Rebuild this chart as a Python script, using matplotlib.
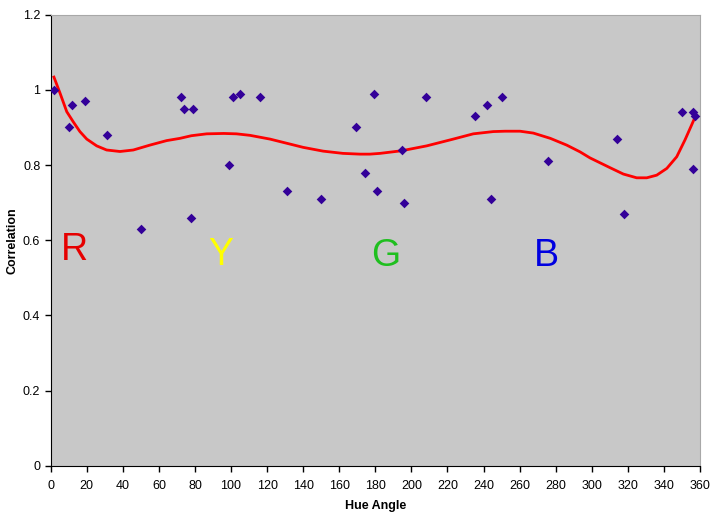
import matplotlib
matplotlib.use("Agg")
import matplotlib.pyplot as plt

plt.rcParams["font.family"] = ["Liberation Sans", "DejaVu Sans"]

# scatter data: hue angle vs correlation
hue = [2, 10, 12, 19, 31, 50, 72, 74, 78, 79, 99, 101, 105, 116, 131, 150,
       169, 174, 179, 181, 195, 196, 208, 235, 242, 244, 250, 276, 314, 318,
       350, 356, 356, 357]
corr = [1.00, 0.90, 0.96, 0.97, 0.88, 0.63, 0.98, 0.95, 0.66, 0.95, 0.80, 0.98,
        0.99, 0.98, 0.73, 0.71, 0.90, 0.78, 0.99, 0.73, 0.84, 0.70, 0.98, 0.93,
        0.96, 0.71, 0.98, 0.81, 0.87, 0.67, 0.94, 0.94, 0.79, 0.93]

# trend line
trend_x = [1.8, 5.2, 8.9, 12.5, 16.2, 20, 25.5, 31, 38.4, 45.8, 55, 64.3, 71.7,
           78, 86.5, 96, 103, 110.5, 121.6, 130.8, 140, 151, 162, 171.5, 177,
           182.6, 194.6, 208.5, 223.2, 234.3, 245.4, 252, 260.2, 267.6, 277,
           286.1, 293.5, 299, 310.1, 317.5, 324.9, 330.5, 336, 341.6, 347.1,
           351.7, 355.4, 357.4]
trend_y = [1.034, 0.991, 0.942, 0.915, 0.889, 0.869, 0.851, 0.840, 0.836, 0.840,
           0.853, 0.865, 0.871, 0.878, 0.883, 0.884, 0.883, 0.879, 0.869, 0.858,
           0.847, 0.837, 0.831, 0.829, 0.829, 0.831, 0.838, 0.851, 0.869, 0.883,
           0.889, 0.890, 0.890, 0.885, 0.871, 0.853, 0.835, 0.819, 0.793, 0.776,
           0.766, 0.766, 0.773, 0.791, 0.822, 0.867, 0.907, 0.929]

labels = ["R", "Y", "G", "B"]
label_x = [13, 94, 186, 275]
label_y = [0.574, 0.561, 0.558, 0.558]
label_colors = ["#e60000", "#ffff00", "#1fbf1f", "#0000e0"]

fig = plt.figure(figsize=(7.10, 5.14), dpi=100)
ax = fig.add_axes([0.0714, 0.094, 0.9145, 0.8774])
ax.set_facecolor("#c8c8c8")

ax.plot(trend_x, trend_y, color="#ff0000", lw=2, zorder=2)
ax.scatter(hue, corr, marker="D", s=24, color="#330099", zorder=3, linewidths=0)

for t, x, y, c in zip(labels, label_x, label_y, label_colors):
    ax.text(x, y, t, color=c, fontsize=27, ha="center", va="center")

ax.set_xlim(0, 360)
ax.set_ylim(0, 1.2)
ax.set_xticks(range(0, 361, 20))
ax.set_yticks([0, 0.2, 0.4, 0.6, 0.8, 1.0, 1.2])
ax.set_yticklabels(["0", "0.2", "0.4", "0.6", "0.8", "1", "1.2"])
ax.tick_params(direction="out", length=4, width=1, labelsize=9, colors="black")
ax.tick_params(axis="x", pad=6)
ax.spines["top"].set_color("#a8a8a8")
ax.spines["right"].set_color("#a8a8a8")
ax.set_xlabel("Hue Angle", fontsize=9, fontweight="bold")
ax.set_ylabel("Correlation", fontsize=9, fontweight="bold")
ax.xaxis.set_label_coords(0.5, -0.075)
ax.yaxis.set_label_coords(-0.05, 0.5)

fig.savefig("out.png", dpi=100)
